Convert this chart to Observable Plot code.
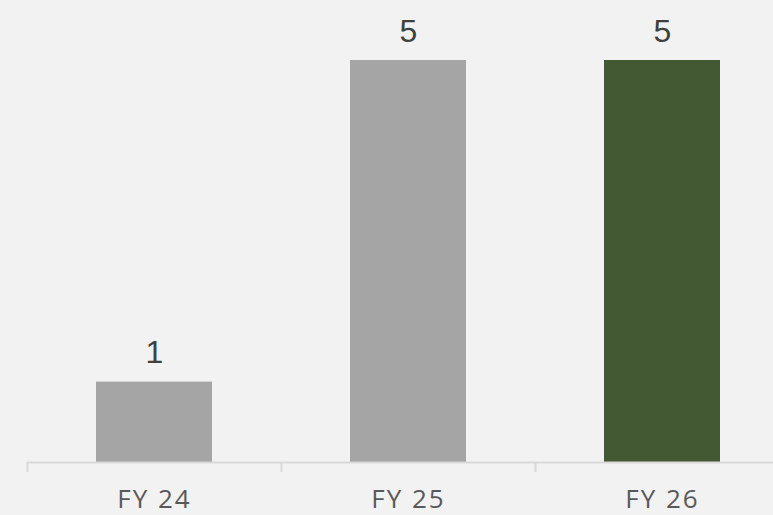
<!DOCTYPE html>
<html>
<head>
<meta charset="utf-8">
<script src="https://cdn.jsdelivr.net/npm/d3@7"></script>
<script src="https://cdn.jsdelivr.net/npm/@observablehq/plot@0.6"></script>
<style>
  html, body { margin: 0; padding: 0; background: #f2f2f2; }
  #chart svg { display: block; }
  #chart svg g[aria-label="x-axis tick label"] text { letter-spacing: 2px; }
</style>
</head>
<body>
<div id="chart"></div>
<script>
const categories = ["FY 24", "FY 25", "FY 26"];
const values = [1, 5, 5];
const barColors = ["#a5a5a5", "#a5a5a5", "#435934"];

const data = categories.map((c, i) => ({cat: c, value: values[i], color: barColors[i]}));

const W = 773, H = 515;
const xRange = [27, 789];
const step = (xRange[1] - xRange[0]) / categories.length;
const barWidth = 116;
const inset = (step - barWidth) / 2;

const chart = Plot.plot({
  width: W,
  height: H,
  marginLeft: 27,
  marginRight: 0,
  marginTop: 0,
  marginBottom: 53,
  style: {background: "#f2f2f2", color: "#595959", fontFamily: "'Open Sans', sans-serif", fontSize: "26px", overflow: "visible"},
  x: {domain: categories, range: xRange, padding: 0, tickSize: 0, tickPadding: 27, label: null},
  y: {domain: [0, 5], range: [462, 60], axis: null},
  marks: [
    Plot.barY(data, {x: "cat", y: "value", fill: "color", insetLeft: inset, insetRight: inset}),
    Plot.ruleY([0], {stroke: "#d9d9d9", strokeWidth: 2}),
    Plot.ruleX(categories, {x: d => d, y1: 0, y2: 0, insetBottom: -10, dx: -step / 2, stroke: "#d9d9d9", strokeWidth: 2}),
    Plot.text(data, {x: "cat", y: "value", text: d => String(d.value), dy: -19, lineAnchor: "bottom", fill: "#404040", fontSize: 32, fontFamily: "'Liberation Sans', Arial, sans-serif"})
  ]
});
document.getElementById("chart").appendChild(chart);
</script>
</body>
</html>
